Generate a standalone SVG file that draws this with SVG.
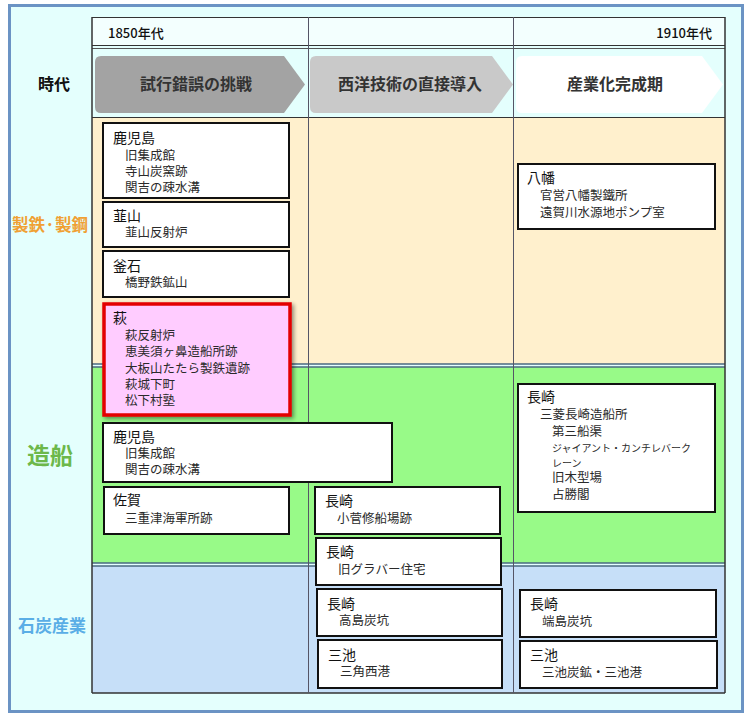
<svg xmlns="http://www.w3.org/2000/svg" width="749" height="720" viewBox="0 0 749 720">
<defs>
<style>
text{font-family:"Noto Sans CJK JP","Noto Sans",sans-serif;}
.box{fill:#ffffff;stroke:#111;stroke-width:2;}
.t{font-size:14px;fill:#111;}
.i{font-size:12.5px;fill:#2a2a2a;}
.s{font-size:10px;fill:#2a2a2a;}
.vl{stroke:#556;stroke-width:1;}
.hd{font-size:13px;font-weight:500;fill:#111;}
.ar{font-size:16px;font-weight:bold;fill:#333;text-anchor:middle;}
</style>
<filter id="sh" x="-10%" y="-10%" width="125%" height="125%">
<feGaussianBlur in="SourceAlpha" stdDeviation="2"/>
<feOffset dx="2" dy="2"/>
<feComponentTransfer><feFuncA type="linear" slope="0.45"/></feComponentTransfer>
<feMerge><feMergeNode/><feMergeNode in="SourceGraphic"/></feMerge>
</filter>
</defs>
<rect x="9.5" y="5.5" width="733" height="706" fill="#e4fffd" stroke="#6b93c4" stroke-width="3"/>
<g id="grid">
<rect x="92" y="17" width="633" height="29" fill="#f3fffe"/>
<rect x="92" y="117" width="633" height="247" fill="#fff0cd"/>
<rect x="92" y="367" width="633" height="196" fill="#98fa88"/>
<rect x="92" y="566" width="633" height="127" fill="#c6dff8"/>
<line x1="92" y1="17.5" x2="725" y2="17.5" stroke="#333"/>
<line x1="92" y1="45.5" x2="725" y2="45.5" stroke="#333"/>
<line x1="92" y1="48.5" x2="725" y2="48.5" stroke="#555"/>
<line x1="92" y1="117.5" x2="725" y2="117.5" stroke="#333"/>
<line x1="92" y1="364" x2="725" y2="364" stroke="#4a6a80" stroke-width="1.5"/>
<line x1="92" y1="367" x2="725" y2="367" stroke="#4a6a80" stroke-width="1.5"/>
<line x1="92" y1="563" x2="725" y2="563" stroke="#4a6a80" stroke-width="1.5"/>
<line x1="92" y1="566" x2="725" y2="566" stroke="#4a6a80" stroke-width="1.5"/>
<line x1="92" y1="693" x2="725" y2="693" stroke="#333" stroke-width="1.5"/>
<line x1="92" y1="17" x2="92" y2="693" stroke="#333" stroke-width="1.5"/>
<line x1="308.5" y1="17" x2="308.5" y2="693" class="vl"/>
<line x1="513.5" y1="17" x2="513.5" y2="693" class="vl"/>
<line x1="725" y1="17" x2="725" y2="693" stroke="#333" stroke-width="1.5"/>
</g>
<g id="header">
<text x="108" y="38" class="hd">1850年代</text>
<text x="712" y="38" class="hd" text-anchor="end">1910年代</text>
<text x="54" y="90" font-size="16" font-weight="bold" fill="#111" text-anchor="middle">時代</text>
</g>
<g id="era1">
<path d="M101,56 H284 L305,84.5 L284,113 H101 Q95,113 95,107 V62 Q95,56 101,56 Z" fill="#a3a3a3"/>
<text x="196" y="90" class="ar">試行錯誤の挑戦</text>
</g>
<g id="era2">
<path d="M316,56 H492 L513,84.5 L492,113 H316 Q310,113 310,107 V62 Q310,56 316,56 Z" fill="#c9c9c9"/>
<text x="410" y="90" class="ar">西洋技術の直接導入</text>
</g>
<g id="era3">
<path d="M522,56 H702 L723,84.5 L702,113 H522 Q516,113 516,107 V62 Q516,56 522,56 Z" fill="#ffffff"/>
<text x="615" y="90" class="ar">産業化完成期</text>
</g>
<g id="cat-iron"><text x="50" y="231" font-size="16.5" font-weight="bold" fill="#f0a033" text-anchor="middle">製鉄·製鋼</text></g>
<g id="cat-ship"><text x="50" y="464" font-size="23" font-weight="bold" fill="#6cb84a" text-anchor="middle">造船</text></g>
<g id="cat-coal"><text x="52" y="632" font-size="17" font-weight="bold" fill="#5aaee6" text-anchor="middle">石炭産業</text></g>

<g id="kagoshima1">
<rect x="103" y="123" width="186" height="75" class="box"/>
<text x="113" y="143" class="t">鹿児島</text>
<text x="125" y="160" class="i">旧集成館</text>
<text x="125" y="176" class="i">寺山炭窯跡</text>
<text x="125" y="192" class="i">関吉の疎水溝</text>
</g>
<g id="nirayama">
<rect x="103" y="202" width="186" height="45" class="box"/>
<text x="113" y="221" class="t">韮山</text>
<text x="125" y="237" class="i">韮山反射炉</text>
</g>
<g id="kamaishi">
<rect x="103" y="251" width="186" height="46" class="box"/>
<text x="113" y="271" class="t">釜石</text>
<text x="125" y="287" class="i">橋野鉄鉱山</text>
</g>
<g id="hagi">
<rect x="104" y="304" width="186" height="111" fill="#ffccff" stroke="#e30000" stroke-width="3.5" filter="url(#sh)"/>
<text x="113" y="323" class="t">萩</text>
<text x="125" y="340" class="i">萩反射炉</text>
<text x="125" y="356" class="i">恵美須ヶ鼻造船所跡</text>
<text x="125" y="373" class="i">大板山たたら製鉄遺跡</text>
<text x="125" y="389" class="i">萩城下町</text>
<text x="125" y="405" class="i">松下村塾</text>
</g>
<g id="kagoshima2">
<rect x="103" y="423" width="289" height="59" class="box"/>
<text x="113" y="442" class="t">鹿児島</text>
<text x="125" y="458" class="i">旧集成館</text>
<text x="125" y="474" class="i">関吉の疎水溝</text>
</g>
<g id="saga">
<rect x="104" y="487" width="185" height="47" class="box"/>
<text x="113" y="505" class="t">佐賀</text>
<text x="125" y="523" class="i">三重津海軍所跡</text>
</g>
<g id="nagasaki-kosuge">
<rect x="315" y="487" width="185" height="47" class="box"/>
<text x="325" y="506" class="t">長崎</text>
<text x="337" y="523" class="i">小菅修船場跡</text>
</g>
<g id="nagasaki-glover">
<rect x="316" y="538" width="185" height="47" class="box"/>
<text x="326" y="557" class="t">長崎</text>
<text x="338" y="574" class="i">旧グラバー住宅</text>
</g>
<g id="nagasaki-takashima">
<rect x="317" y="589" width="185" height="47" class="box"/>
<text x="327" y="609" class="t">長崎</text>
<text x="339" y="625" class="i">高島炭坑</text>
</g>
<g id="miike-misumi">
<rect x="318" y="640" width="184" height="48" class="box"/>
<text x="328" y="660" class="t">三池</text>
<text x="340" y="676" class="i">三角西港</text>
</g>
<g id="yawata">
<rect x="518" y="164" width="197" height="65" class="box"/>
<text x="527" y="183" class="t">八幡</text>
<text x="540" y="200" class="i">官営八幡製鐵所</text>
<text x="540" y="217" class="i">遠賀川水源地ポンプ室</text>
</g>
<g id="nagasaki-mitsubishi">
<rect x="518" y="384" width="197" height="128" class="box"/>
<text x="527" y="402" class="t">長崎</text>
<text x="540" y="419" class="i">三菱長崎造船所</text>
<text x="552" y="436" class="i">第三船渠</text>
<text x="552" y="452" class="s">ジャイアント・カンチレバーク</text>
<text x="552" y="467" class="s">レーン</text>
<text x="552" y="482" class="i">旧木型場</text>
<text x="552" y="499" class="i">占勝閣</text>
</g>
<g id="nagasaki-hashima">
<rect x="520" y="590" width="196" height="47" class="box"/>
<text x="530" y="609" class="t">長崎</text>
<text x="542" y="626" class="i">端島炭坑</text>
</g>
<g id="miike-mine">
<rect x="520" y="641" width="197" height="47" class="box"/>
<text x="530" y="660" class="t">三池</text>
<text x="542" y="677" class="i">三池炭鉱・三池港</text>
</g>
</svg>
